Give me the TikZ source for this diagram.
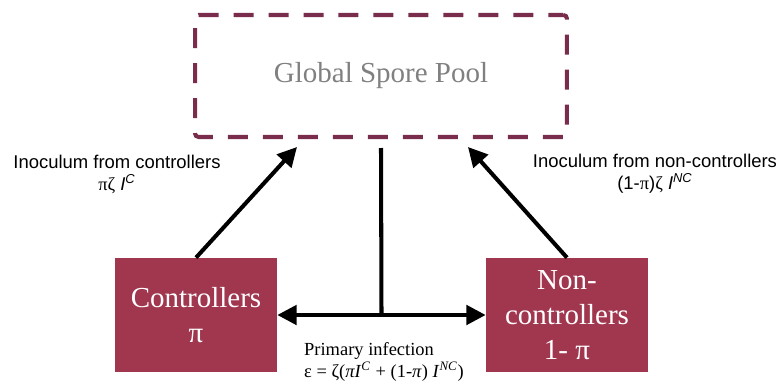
\documentclass[tikz,border=0pt]{standalone}
\usepackage{fontspec}
\setmainfont{Liberation Serif}
\setsansfont{Liberation Sans}
\newfontfamily\boxfont{Liberation Serif}
\usetikzlibrary{arrows.meta, calc}
\definecolor{poolline}{HTML}{7A2C4C}
\definecolor{groupfill}{HTML}{A1364F}
\begin{document}
\begin{tikzpicture}[x=0.02cm, y=-0.02cm]
    % Define styles
    \tikzset{
        pool/.style={draw=poolline, line width=2.3pt, dash pattern=on 0.4cm off 0.3cm, dash phase=0.1cm, rounded corners=2pt, minimum width=7.44cm, minimum height=2.44cm, text=gray, font=\boxfont\fontsize{16.5}{20}\selectfont},
        group/.style={fill=groupfill, minimum width=3.24cm, minimum height=2.28cm, text=white, align=center, font=\boxfont\fontsize{16.5}{20}\selectfont},
        flow/.style={-{Triangle[length=11pt, width=11pt]}, line width=2.3pt},
        sidelabel/.style={align=center, font=\sffamily\fontsize{10.5}{12.5}\selectfont},
        eqlabel/.style={align=left, anchor=west, font=\boxfont\fontsize{10.5}{12.5}\selectfont}
    }
    \useasboundingbox (0,0) rectangle (781,382);

    % Spore pool
    \node[pool] (pool) at (381,76) {Global Spore Pool};

    % Host groups
    \node[group] (ctrl) at (196,315) {Controllers\\π};
    \node[group] (nonc) at (567,315) {Non-\\controllers\\1- π};

    % Connector ends
    \coordinate (inctrl) at (297,147);
    \coordinate (innonc) at (468,147);
    \coordinate (drop) at (381,148);
    \coordinate (split) at ($(ctrl.east)!0.5!(nonc.west)$);

    % Arrows
    \draw[flow] (ctrl.north) -- (inctrl);
    \draw[flow] (nonc.north) -- (innonc);
    \draw[line width=2.3pt] (drop) -- (split);
    \draw[flow, {Triangle[length=11pt, width=11pt]}-{Triangle[length=11pt, width=11pt]}] (ctrl.east) -- (nonc.west);

    % Labels
    \node[sidelabel] (lctrl) at (117,174) {Inoculum from controllers\\{\boxfont πζ} \textit{I}\textsuperscript{\textit{C}}};
    \node[sidelabel] (lnonc) at (655,174) {Inoculum from non-controllers\\(1-{\boxfont π}){\boxfont ζ} \textit{I}\textsuperscript{\textit{NC}}};
    \node[eqlabel] (lprim) at (298,362) {Primary infection\\ε = ζ(\textit{πI}\textsuperscript{\textit{C}} + (1-\textit{π}) \textit{I}\textsuperscript{\textit{NC}})};
\end{tikzpicture}
\end{document}
